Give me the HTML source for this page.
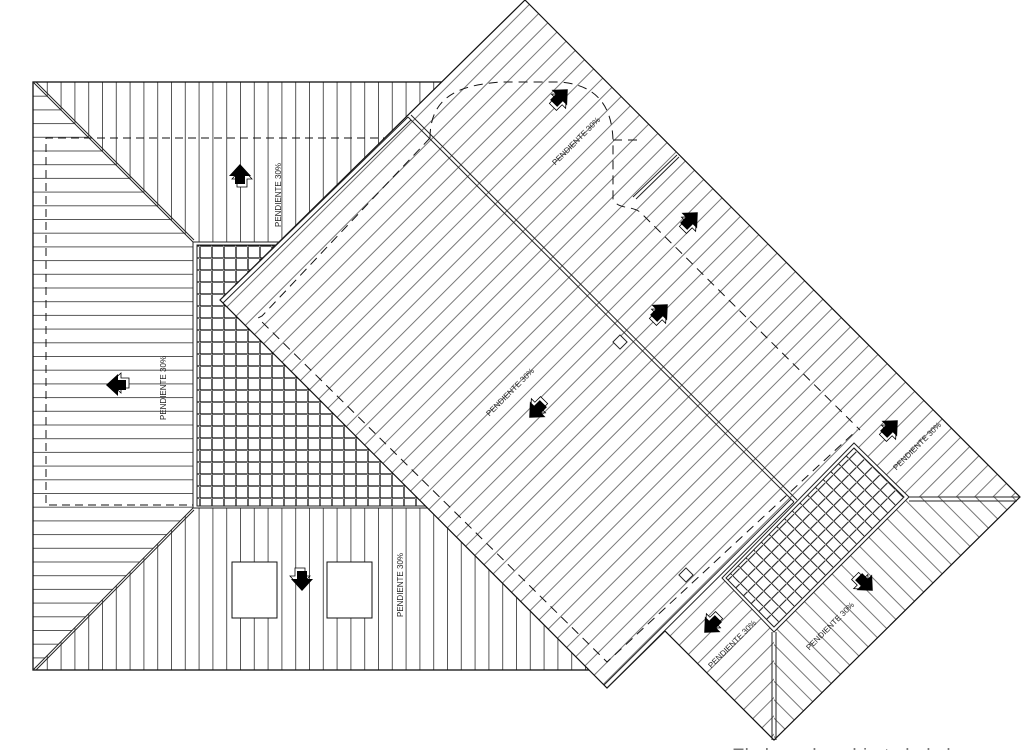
<!DOCTYPE html>
<html><head><meta charset="utf-8"><style>
html,body{margin:0;padding:0;background:#fff;overflow:hidden}
svg{display:block}
text{font-family:"Liberation Sans",sans-serif;font-size:8px;fill:#222}
</style></head><body>
<svg width="1024" height="750" viewBox="0 0 1024 750" xmlns="http://www.w3.org/2000/svg">
<defs>
<pattern id="hz" width="20" height="13.7" patternUnits="userSpaceOnUse" y="82"><line x1="0" y1="0.5" x2="20" y2="0.5" stroke="#555" stroke-width="1"/></pattern>
<pattern id="vt" width="13.8" height="20" patternUnits="userSpaceOnUse" x="33"><line x1="0.5" y1="0" x2="0.5" y2="20" stroke="#555" stroke-width="1"/></pattern>
<pattern id="d45" width="13" height="20" patternUnits="userSpaceOnUse" patternTransform="rotate(45)"><line x1="0.5" y1="0" x2="0.5" y2="20" stroke="#777" stroke-width="1"/></pattern>
<pattern id="dm45" width="13" height="20" patternUnits="userSpaceOnUse" patternTransform="rotate(-45)"><line x1="0.5" y1="0" x2="0.5" y2="20" stroke="#777" stroke-width="1"/></pattern>
<pattern id="grid" width="12" height="12" patternUnits="userSpaceOnUse" x="199" y="247"><path d="M1 0V11H12" fill="none" stroke="#111" stroke-width="1.3"/></pattern>
<pattern id="grid45" width="11" height="11" patternUnits="userSpaceOnUse" patternTransform="rotate(45)"><path d="M1 0V10H11" fill="none" stroke="#222" stroke-width="1.1"/></pattern>
<g id="arr"><path d="M-8 4L2-7L12 4H7V12H-3V4Z" fill="#fff" stroke="#000" stroke-width="0.8"/><path d="M-11 1L0-11L11 1H5V9H-5V1Z" fill="#000"/></g>
</defs>

<!-- left building -->
<rect x="33" y="82" width="567" height="588" fill="#fff"/>
<polygon points="33,82 600,82 600,242 193,242" fill="url(#vt)"/>
<polygon points="33,670 193,508 600,508 600,670" fill="url(#vt)"/>
<polygon points="33,82 193,242 193,508 33,670" fill="url(#hz)"/>
<rect x="193" y="242" width="407" height="266" fill="#fff"/>
<rect x="197" y="245" width="403" height="261" fill="url(#grid)" stroke="#222" stroke-width="1"/>
<rect x="33" y="82" width="567" height="588" fill="none" stroke="#111" stroke-width="1.3"/>
<line x1="193" y1="242" x2="193" y2="508" stroke="#222" stroke-width="1"/>
<line x1="193" y1="242" x2="600" y2="242" stroke="#222" stroke-width="1"/>
<line x1="193" y1="508" x2="600" y2="508" stroke="#222" stroke-width="1"/>
<g stroke="#222" stroke-width="1">
<line x1="33" y1="82" x2="193" y2="242"/><line x1="36" y1="82" x2="194" y2="240"/>
<line x1="33" y1="670" x2="193" y2="508"/><line x1="36" y1="670" x2="194" y2="510"/>
</g>
<path d="M430 138H46V505H193" fill="none" stroke="#111" stroke-width="1" stroke-dasharray="8,5"/>
<rect x="232" y="562" width="45" height="56" fill="#fff" stroke="#111"/>
<rect x="327" y="562" width="45" height="56" fill="#fff" stroke="#111"/>

<!-- rotated building -->
<polygon points="220,300 525,0 1020,497 774,740 665,631 607,688" fill="#fff"/>
<polygon points="220,300 408,117 794,502 607,688" fill="url(#d45)"/>
<polygon points="408,117 525,0 1020,497 909,497 854,443 794,502" fill="url(#d45)"/>
<polygon points="722,578 854,443 909,497 774,632" fill="#fff"/>
<polygon points="726,578 854,448 904,497 774,627" fill="url(#grid45)" stroke="#222" stroke-width="1"/>
<polygon points="909,497 1020,497 774,740 774,632" fill="url(#dm45)"/>
<polygon points="665,631 722,578 774,632 774,740" fill="url(#d45)"/>
<polygon points="220,300 525,0 1020,497 774,740 665,631 607,688" fill="none" stroke="#111" stroke-width="1.2"/>
<polygon points="722,578 854,443 909,497 774,632" fill="none" stroke="#222" stroke-width="1"/>
<g stroke="#222" stroke-width="1" fill="none">
<line x1="220" y1="300" x2="408" y2="117"/><line x1="223" y1="303" x2="411" y2="120"/>
<line x1="408" y1="117" x2="794" y2="502"/><line x1="411" y1="115" x2="797" y2="500"/>
<line x1="607" y1="688" x2="794" y2="502"/><line x1="604" y1="685" x2="791" y2="499"/>
<line x1="909" y1="497" x2="1020" y2="497"/><line x1="909" y1="501" x2="1017" y2="501"/>
<line x1="772" y1="632" x2="772" y2="740"/><line x1="776" y1="632" x2="776" y2="740"/>
<line x1="633" y1="197" x2="677" y2="155"/><line x1="636" y1="199" x2="679" y2="157"/>
</g>
<g fill="none" stroke="#111" stroke-width="1" stroke-dasharray="9,6">
<path d="M430 138L262 316L258 318L607 662L857 430"/>
<path d="M430 138C430 90 470 85 500 82H560C600 85 612 110 613 140V200C620 210 630 205 640 212L860 430"/>
<path d="M613 140H640"/>
</g>
<rect x="615" y="337" width="10" height="10" transform="rotate(45 620 342)" fill="#fff" stroke="#222"/>
<rect x="681" y="570" width="10" height="10" transform="rotate(45 686 575)" fill="#fff" stroke="#222"/>

<!-- arrows -->
<use href="#arr" transform="translate(240,175)"/>
<use href="#arr" transform="translate(117,385) rotate(-90)"/>
<use href="#arr" transform="translate(302,580) rotate(180)"/>
<use href="#arr" transform="translate(560,97) rotate(45)"/>
<use href="#arr" transform="translate(690,220) rotate(45)"/>
<use href="#arr" transform="translate(660,312) rotate(45)"/>
<use href="#arr" transform="translate(537,410) rotate(-135)"/>
<use href="#arr" transform="translate(890,428) rotate(45)"/>
<use href="#arr" transform="translate(712,625) rotate(-135)"/>
<use href="#arr" transform="translate(865,583) rotate(135)"/>

<!-- labels -->
<text transform="translate(281,195) rotate(-90)" text-anchor="middle">PENDIENTE 30%</text>
<text transform="translate(166,388) rotate(-90)" text-anchor="middle">PENDIENTE 30%</text>
<text transform="translate(403,585) rotate(-90)" text-anchor="middle">PENDIENTE 30%</text>
<text transform="translate(578,143) rotate(-45)" text-anchor="middle">PENDIENTE 30%</text>
<text transform="translate(512,394) rotate(-45)" text-anchor="middle">PENDIENTE 30%</text>
<text transform="translate(919,448) rotate(-45)" text-anchor="middle">PENDIENTE 30%</text>
<text transform="translate(734,646) rotate(-45)" text-anchor="middle">PENDIENTE 30%</text>
<text transform="translate(832,628) rotate(-45)" text-anchor="middle">PENDIENTE 30%</text>
<text x="732" y="762" style="font-size:19px;fill:#777">El plano de cubierta lado b</text>
</svg>
</body></html>
